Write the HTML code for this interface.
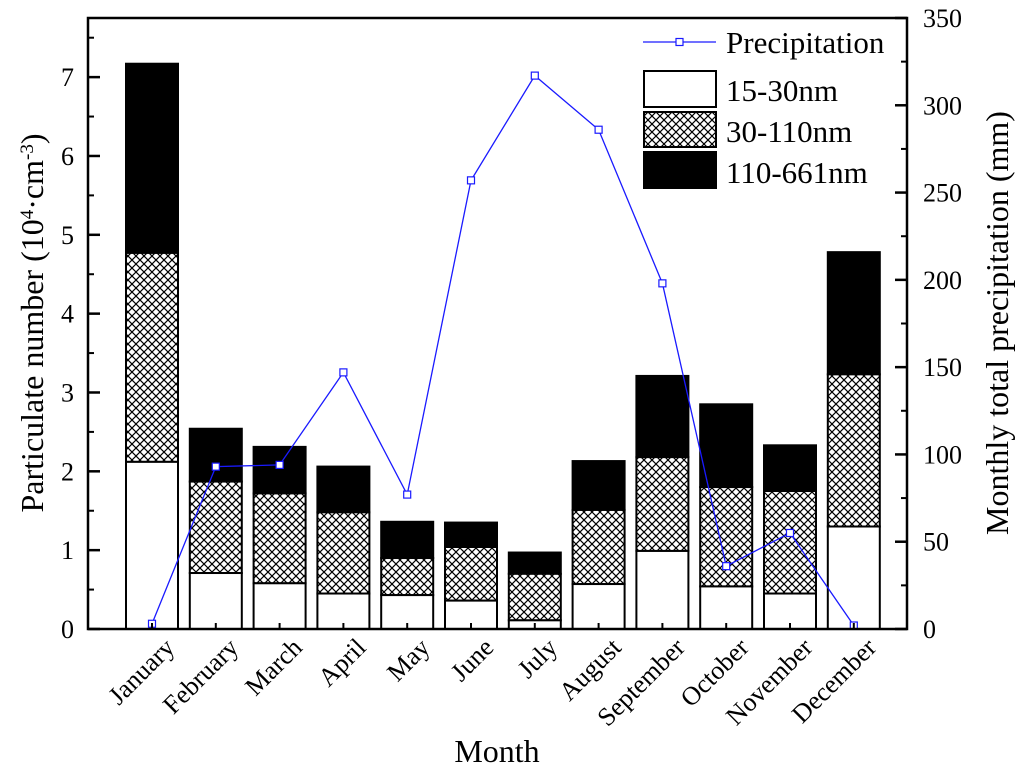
<!DOCTYPE html>
<html><head><meta charset="utf-8"><style>
html,body{margin:0;padding:0;background:#fff;}
body{position:relative;width:1024px;height:770px;}
svg{display:block;font-family:"Liberation Serif",serif;}
</style></head><body>
<svg id="c" style="position:absolute;left:0;top:0" width="1024" height="770" viewBox="0 0 1024 770" xmlns="http://www.w3.org/2000/svg">
<defs>
<pattern id="hatch" width="8" height="8" patternUnits="userSpaceOnUse">
<rect width="8" height="8" fill="#fff"/>
<path d="M0,0 L8,8 M8,0 L0,8" stroke="#000" stroke-width="1.2"/>
</pattern>
</defs>
<g id="plot"></g>
</svg>
<script>
const months=["January","February","March","April","May","June","July","August","September","October","November","December"];
const s1=[2.12,0.71,0.58,0.45,0.43,0.36,0.11,0.57,0.99,0.54,0.45,1.30];
const s2=[4.77,1.87,1.72,1.48,0.90,1.04,0.70,1.51,2.18,1.80,1.75,3.23];
const s3=[7.17,2.54,2.31,2.06,1.36,1.35,0.97,2.13,3.21,2.85,2.33,4.78];
const precip=[3,93,94,147,77,257,317,286,198,36,55,2];
const leftTicks=[0,1,2,3,4,5,6,7];
const rightTicks=[0,50,100,150,200,250,300,350];
const L=88,R=907,T=18,B=629;
const yL=v=>B-(v/7.75)*(B-T);
const yR=v=>B-(v/350)*(B-T);
const xC=i=>152+i*63.8;
const bw=52;
const NS="http://www.w3.org/2000/svg";
const g=document.getElementById('plot');
function mk(t,a,p){const e=document.createElementNS(NS,t);for(const k in a)e.setAttribute(k,a[k]);(p||g).appendChild(e);return e;}
months.forEach((m,i)=>{
 const x=xC(i)-bw/2;
 let e=mk('rect',{x:x,y:yL(s3[i]),width:bw,height:yL(s2[i])-yL(s3[i]),fill:'#000',stroke:'#000','stroke-width':2});
 
 
 e=mk('rect',{x:x,y:yL(s2[i]),width:bw,height:yL(s1[i])-yL(s2[i]),fill:'url(#hatch)',stroke:'#000','stroke-width':2});
 
 
 e=mk('rect',{x:x,y:yL(s1[i]),width:bw,height:B-yL(s1[i]),fill:'#fff',stroke:'#000','stroke-width':2});
 
 
});
let pts=precip.map((v,i)=>xC(i)+','+yR(v)).join(' ');
let pl=mk('polyline',{points:pts,fill:'none',stroke:'#1a1aff','stroke-width':1.3});


precip.forEach((v,i)=>{
 const r=mk('rect',{x:xC(i)-3.5,y:yR(v)-3.5,width:7,height:7,fill:'#fff',stroke:'#1a1aff','stroke-width':1.2});
 
 
});
let fr=mk('rect',{x:L,y:T,width:R-L,height:B-T,fill:'none',stroke:'#000','stroke-width':2.5});


leftTicks.forEach(v=>{
 mk('line',{x1:L,x2:L+12,y1:yL(v),y2:yL(v),stroke:'#000','stroke-width':2.5});
 mk('line',{x1:L,x2:L+6,y1:yL(v+0.5),y2:yL(v+0.5),stroke:'#000','stroke-width':2});
 const t=mk('text',{x:L-14,y:yL(v)+9,'text-anchor':'end','font-size':26});
 t.textContent=v;
 
 
});
rightTicks.forEach(v=>{
 mk('line',{x1:R,x2:R-12,y1:yR(v),y2:yR(v),stroke:'#000','stroke-width':2.5});
 if(v<350) mk('line',{x1:R,x2:R-6,y1:yR(v+25),y2:yR(v+25),stroke:'#000','stroke-width':2});
 const t=mk('text',{x:R+16,y:yR(v)+9,'text-anchor':'start','font-size':26});
 t.textContent=v;
 
 
});
months.forEach((m,i)=>{
 mk('line',{x1:xC(i),x2:xC(i),y1:B,y2:B-6,stroke:'#000','stroke-width':2});
 const t=mk('text',{x:0,y:0,'text-anchor':'end','font-size':26,transform:`translate(${xC(i)+24},${B+20}) rotate(-45)`});
 t.textContent=m;
 
 
});
</script>
<svg style="position:absolute;left:0;top:0" width="1024" height="770">
<defs>
<pattern id="hatch2" width="8" height="8" patternUnits="userSpaceOnUse">
<rect width="8" height="8" fill="#fff"/>
<path d="M0,0 L8,8 M8,0 L0,8" stroke="#000" stroke-width="1.2"/>
</pattern>
</defs>
<text x="497" y="762" text-anchor="middle" font-size="32" font-family="Liberation Serif,serif">Month</text>
<text transform="translate(43,323) rotate(-90)" text-anchor="middle" font-size="32" font-family="Liberation Serif,serif">Particulate number (10<tspan baseline-shift="super" font-size="19">4</tspan>·cm<tspan baseline-shift="super" font-size="19">-3</tspan>)</text>
<text transform="translate(1008,323) rotate(-90)" text-anchor="middle" font-size="32" font-family="Liberation Serif,serif">Monthly total precipitation (mm)</text>
<g font-family="Liberation Serif,serif" font-size="31">
<line x1="643" y1="42" x2="716" y2="42" stroke="#1a1aff" stroke-width="1.3"/>
<rect x="676" y="38.5" width="7" height="7" fill="#fff" stroke="#1a1aff" stroke-width="1.2"/>
<text x="726" y="53">Precipitation</text>
<rect x="644" y="71" width="72" height="36" fill="#fff" stroke="#000" stroke-width="2"/>
<text x="726" y="101">15-30nm</text>
<rect x="644" y="112" width="72" height="35" fill="url(#hatch2)" stroke="#000" stroke-width="2"/>
<text x="726" y="142">30-110nm</text>
<rect x="644" y="152" width="72" height="36" fill="#000" stroke="#000" stroke-width="2"/>
<text x="726" y="183">110-661nm</text>
</g>
</svg>
</body></html>
